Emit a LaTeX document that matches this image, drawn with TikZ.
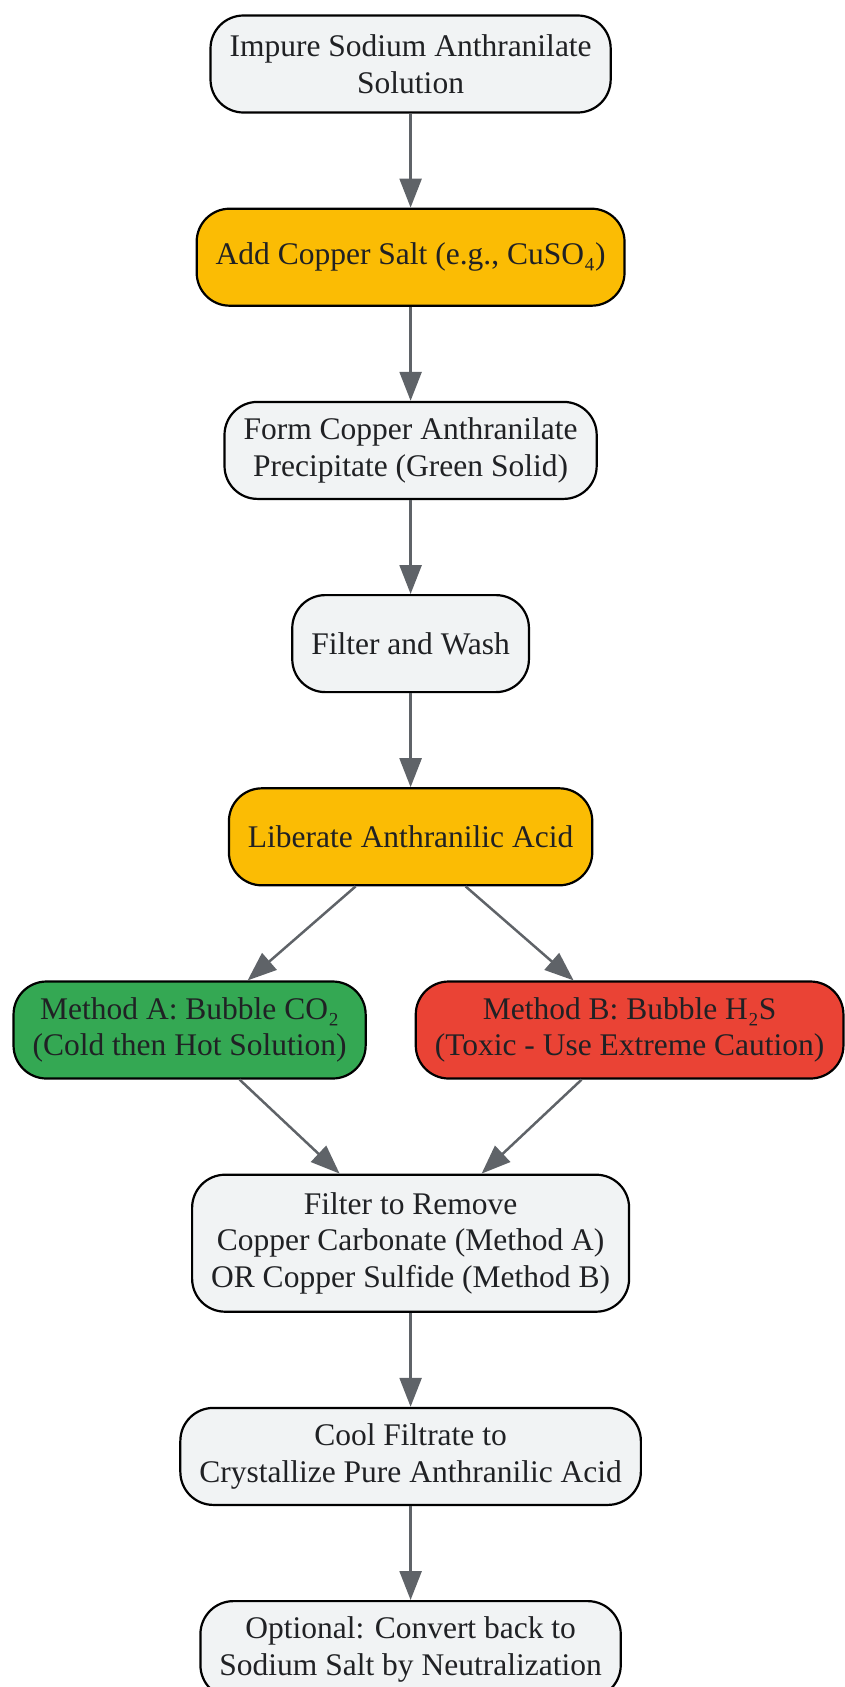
\documentclass[tikz,border=0pt]{standalone}
\usepackage{fontspec}
\setmainfont{Liberation Serif}
\usetikzlibrary{arrows.meta, positioning}
\definecolor{boxgray}{HTML}{F1F3F4}
\definecolor{amberfill}{HTML}{FBBC04}
\definecolor{greenfill}{HTML}{34A853}
\definecolor{redfill}{HTML}{EA4335}
\definecolor{inkgray}{HTML}{202124}
\definecolor{arrowgray}{HTML}{5F6368}

\begin{document}
\begin{tikzpicture}[x = 1pt, y = 1pt, node distance = 94pt,
    stage/.style = {draw = black, line width = 2.2pt, rounded corners = 33pt, fill = boxgray, text = inkgray,
                    align = center, font = \fontsize{31.5}{36.6}\selectfont,
                    inner xsep = 19pt, inner ysep = 15pt, minimum height = 97pt},
    amber/.style = {stage, fill = amberfill},
    safe/.style = {stage, fill = greenfill},
    danger/.style = {stage, fill = redfill},
    flow/.style = {color = arrowgray, line width = 2.5pt, -{Triangle[length = 29pt, width = 22pt]}}]
      \useasboundingbox (0,0) rectangle (845,-1687);
      \node[stage] (sol) at (410.6,-64) {Impure Sodium Anthranilate\\Solution};
      \node[amber, below = of sol] (cu) {Add Copper Salt (e.g., CuSO₄)};
      \node[stage, below = of cu] (ppt) {Form Copper Anthranilate\\Precipitate (Green Solid)};
      \node[stage, below = of ppt] (wash) {Filter and Wash};
      \node[amber, below = of wash] (lib) {Liberate Anthranilic Acid};
      \node[safe, below = 94pt of lib, xshift = -221pt] (metha) {Method A: Bubble CO₂\\(Cold then Hot Solution)};
      \node[danger, below = 94pt of lib, xshift = 219pt] (methb) {Method B: Bubble H₂S\\(Toxic - Use Extreme Caution)};
      \coordinate (join) at (metha.south -| lib);
      \node[stage, below = of join, minimum height = 137pt] (rem) {Filter to Remove\\Copper Carbonate (Method A)\\OR Copper Sulfide (Method B)};
      \node[stage, below = of rem] (cool) {Cool Filtrate to\\Crystallize Pure Anthranilic Acid};
      \node[stage, below = of cool] (neut) {Optional: Convert back to\\Sodium Salt by Neutralization};
      \path[flow] (sol) edge (cu)
                  (cu) edge (ppt)
                  (ppt) edge (wash)
                  (wash) edge (lib)
                  ([xshift = -55pt]lib.south) edge ([xshift = 58pt]metha.north)
                  ([xshift = 55pt]lib.south) edge ([xshift = -56pt]methb.north)
                  ([xshift = 50pt]metha.south) edge ([xshift = -71pt]rem.north)
                  ([xshift = -48pt]methb.south) edge ([xshift = 71pt]rem.north)
                  (rem) edge (cool)
                  (cool) edge (neut);
\end{tikzpicture}
\end{document}
